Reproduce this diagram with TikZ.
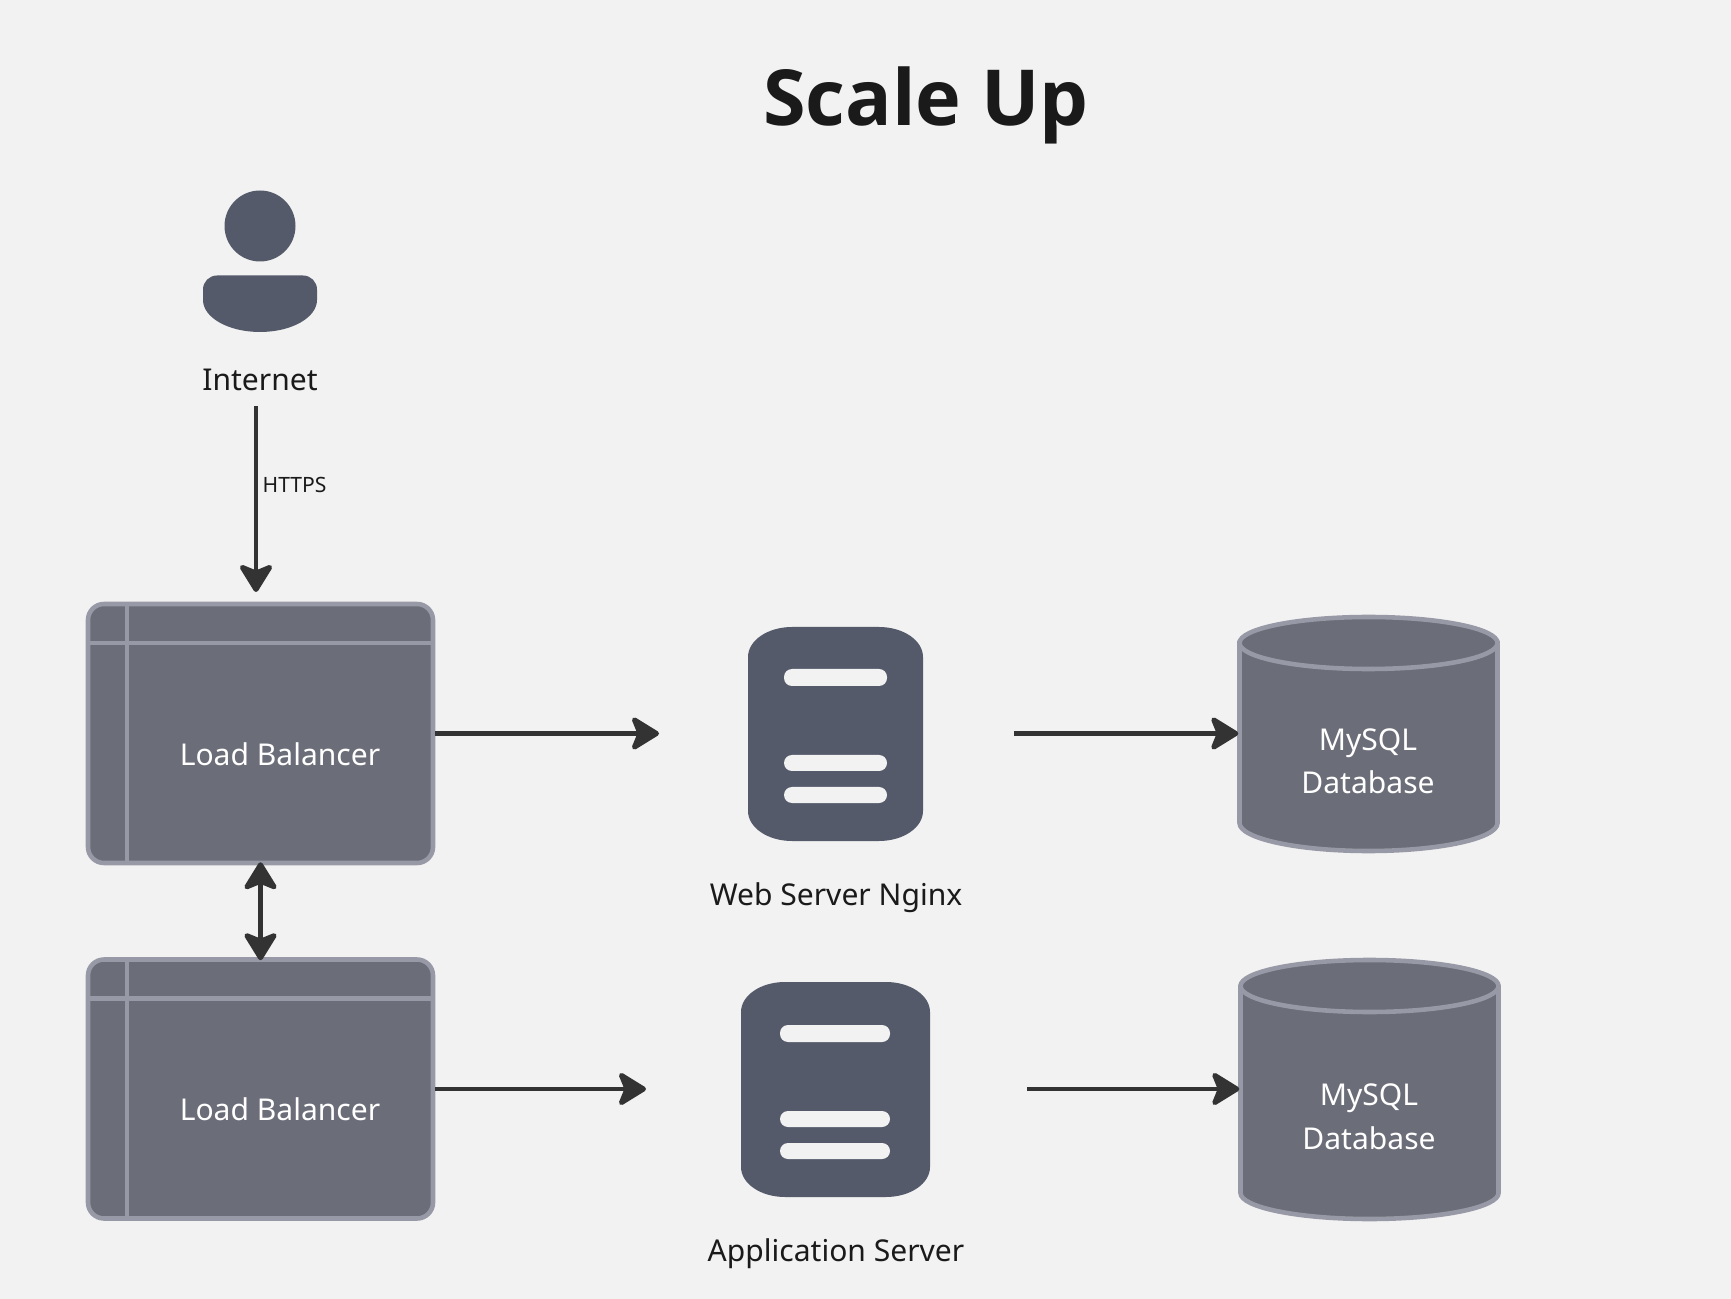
\documentclass[tikz,border=0pt]{standalone}
\usepackage{fontspec}
\setmainfont{Noto Sans}
\newfontfamily\titlefont{Open Sans}
\usetikzlibrary{arrows.meta}
\definecolor{bgfill}{HTML}{F2F2F2}
\definecolor{boxfill}{HTML}{6B6D78}
\definecolor{boxline}{HTML}{9899A6}
\definecolor{iconfill}{HTML}{555A6B}
\definecolor{arrowcol}{HTML}{333333}
\definecolor{textcol}{HTML}{1A1A1A}
\tikzset{
  lbbox/.style={draw=boxline,fill=boxfill,line width=1.3pt,rounded corners=1.6mm,inner sep=0pt,minimum width=34.5mm,minimum height=25.9mm},
  lbline/.style={draw=boxline,line width=1.3pt},
  dbbody/.style={draw=boxline,fill=boxfill,line width=1.3pt},
  dbanchor/.style={inner sep=0pt,minimum width=25.9mm,minimum height=23.4mm},
  servercorner/.style={x radius=44,y radius=30},
  serverbar/.style={fill=bgfill,rounded corners=0.8mm},
  darklabel/.style={text=textcol,font=\fontsize{8.55}{11}\selectfont,inner sep=0pt},
  whitelabel/.style={text=white,font=\fontsize{8.55}{11}\selectfont,inner sep=0pt},
  flow/.style={draw=arrowcol,line width=1.4pt,-{Stealth[length=9pt,width=11pt,inset=2.2pt,round]}},
  flowboth/.style={flow,{Stealth[length=9pt,width=11pt,inset=2.2pt,round]}-{Stealth[length=9pt,width=11pt,inset=2.2pt,round]},shorten <=-0.3mm,shorten >=-0.3mm}
}
\begin{document}
\begin{tikzpicture}[x=0.1mm,y=-0.1mm]
  \fill[bgfill] (0,0) rectangle (1731,1299);

  \node[text=textcol,font=\titlefont\fontsize{22}{26}\selectfont\bfseries,inner sep=0pt] (title) at (926,105) {Scale Up};

  % internet user
  \fill[iconfill] (260,226) circle (35.5);
  \fill[iconfill] (203,300) [rounded corners=1.4mm] -- (203,275.5) -- (317,275.5) [sharp corners] -- (317,300)
    arc[start angle=0,end angle=180,x radius=57,y radius=32] -- cycle;
  \node[darklabel] (internet) at (260,379.5) {Internet};

  % load balancers
  \node[lbbox] (lb1) at (260.5,733.5) {};
  \draw[lbline] (127,604) -- (127,863);
  \draw[lbline] (88,643) -- (433,643);
  \node[whitelabel] (lb1label) at (280,754) {Load Balancer};

  \node[lbbox] (lb2) at (260.5,1089) {};
  \draw[lbline] (127,960) -- (127,1218);
  \draw[lbline] (88,998.5) -- (433,998.5);
  \node[whitelabel] (lb2label) at (280,1109.5) {Load Balancer};

  % servers
  \fill[iconfill] (748,657) arc[start angle=180,end angle=270,servercorner] -- (879,627) arc[start angle=270,end angle=360,servercorner]
    -- (923,811) arc[start angle=0,end angle=90,servercorner] -- (792,841) arc[start angle=90,end angle=180,servercorner] -- cycle;
  \fill[serverbar] (784,669) rectangle (887,686);
  \fill[serverbar] (784,755) rectangle (887,771);
  \fill[serverbar] (784,787) rectangle (887,803);
  \node[darklabel] (weblabel) at (836,897.5) {Web Server Nginx};

  \fill[iconfill] (741,1012) arc[start angle=180,end angle=270,servercorner] -- (886,982) arc[start angle=270,end angle=360,servercorner]
    -- (930,1167) arc[start angle=0,end angle=90,servercorner] -- (785,1197) arc[start angle=90,end angle=180,servercorner] -- cycle;
  \fill[serverbar] (780,1025) rectangle (890,1042);
  \fill[serverbar] (780,1111) rectangle (890,1127);
  \fill[serverbar] (780,1143) rectangle (890,1159);
  \node[darklabel] (applabel) at (836,1253.5) {Application Server};

  % databases
  \path[dbbody] (1239.5,643) -- (1239.5,823) arc[start angle=180,end angle=0,x radius=129,y radius=28] -- (1497.5,643) -- cycle;
  \path[dbbody] (1368.5,643) ellipse [x radius=129,y radius=26];
  \node[dbanchor] (db1) at (1368.5,733.5) {};
  \node[whitelabel] (db1label) at (1368,743) {MySQL};
  \node[whitelabel] at (1368,782) (db1name) {Database};

  \path[dbbody] (1240.5,987) -- (1240.5,1193) arc[start angle=180,end angle=0,x radius=129,y radius=26] -- (1498.5,987) -- cycle;
  \path[dbbody] (1369.5,986) ellipse [x radius=129,y radius=26];
  \node[dbanchor] (db2) at (1369.5,1089) {};
  \node[whitelabel] (db2label) at (1369,1098) {MySQL};
  \node[whitelabel] (db2name) at (1369,1138.5) {Database};

  % connectors
  \coordinate (httpsstart) at (256,406);
  \coordinate (httpsend) at (256,592);
  \coordinate (webin) at (659,733.5);
  \coordinate (appin) at (646,1089);
  \coordinate (webout) at (1014,733.5);
  \coordinate (appout) at (1027,1089);

  \draw[flow] (httpsstart) -- (httpsend);
  \node[text=textcol,font=\fontsize{6}{7}\selectfont,inner sep=0pt,anchor=west] (https) at (262,485) {HTTPS};
  \draw[flowboth] (lb1.south) -- (lb2.north);
  \draw[flow] (lb1.east) -- (webin);
  \draw[flow] (lb2.east) -- (appin);
  \draw[flow] (webout) -- (db1.west);
  \draw[flow] (appout) -- (db2.west);
\end{tikzpicture}
\end{document}
